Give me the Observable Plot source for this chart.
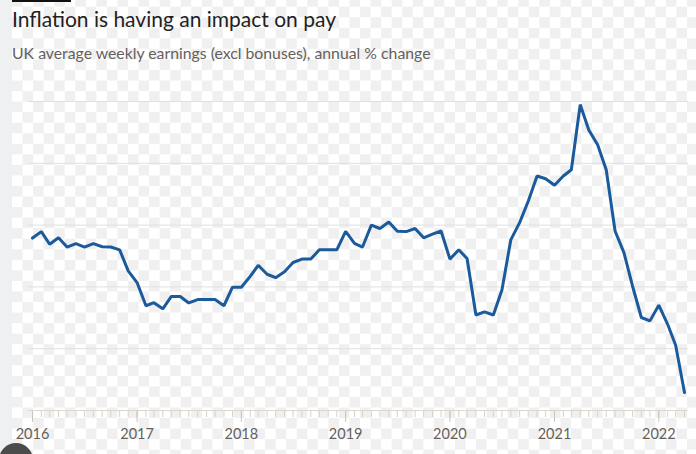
<!DOCTYPE html>
<html><head><meta charset="utf-8">
<script src="https://cdn.jsdelivr.net/npm/d3@7"></script>
<script src="https://cdn.jsdelivr.net/npm/@observablehq/plot@0.6"></script>
<style>
html,body{margin:0;padding:0;}
body{width:696px;height:454px;overflow:hidden;position:relative;background-color:#fff;
background-image:conic-gradient(#f0f0f0 25%, #fff 0 50%, #f0f0f0 0 75%, #fff 0);
background-size:21.1px 21.1px;background-position:12px 6.7px;font-family:Lato,"Open Sans",sans-serif;}
#strip{position:absolute;left:0;top:0;width:12px;height:454px;background:#eff0f2;}
#bar{position:absolute;left:12px;top:0;width:59px;height:2px;background:#111;}
#title{position:absolute;left:12px;top:6px;font-size:21px;color:#1f1f1f;white-space:nowrap;}
#subtitle{position:absolute;left:12px;top:43px;font-size:15.8px;color:#66605c;white-space:nowrap;}
#chart{position:absolute;left:0;top:80px;}
#dot{position:absolute;left:-1px;top:443px;width:34px;height:34px;border-radius:50%;background:#4b4b4b;}
</style></head>
<body>
<div id="strip"></div>
<div id="bar"></div>
<div id="title">Inflation is having an impact on pay</div>
<div id="subtitle">UK average weekly earnings (excl bonuses), annual % change</div>
<div id="chart"></div>
<div id="dot"></div>
<script>
// First month of the series (Jan 2016), one value per month to Apr 2022
const startMonth = "2016-01-01";
const values = [
  1.58, 1.79, 1.38, 1.59, 1.29, 1.40, 1.29, 1.40, 1.30, 1.29, 1.20, 0.52,
  0.14, -0.61, -0.51, -0.71, -0.31, -0.31, -0.52, -0.41, -0.41, -0.41, -0.61, -0.01,
  -0.01, 0.34, 0.70, 0.41, 0.30, 0.49, 0.79, 0.90, 0.90, 1.20, 1.20, 1.20,
  1.80, 1.41, 1.29, 2.00, 1.89, 2.10, 1.80, 1.79, 1.89, 1.59, 1.71, 1.81,
  0.90, 1.20, 0.92, -0.91, -0.81, -0.91, -0.10, 1.52, 2.08, 2.77, 3.59, 3.50,
  3.29, 3.59, 3.79, 5.90, 5.08, 4.60, 3.79, 1.81, 1.11, 0.03, -0.99, -1.10,
  -0.59, -1.21, -1.89, -3.42
];
const yearLabels = ["2016", "2017", "2018", "2019", "2020", "2021", "2022"];
const gridValues = [-2, 0, 2, 4, 6];
const baselineValue = -4;

const start = new Date(startMonth + "T00:00:00Z");
const data = values.map((v, i) => ({date: d3.utcMonth.offset(start, i), value: v}));
const yearDates = yearLabels.map(y => new Date(Date.UTC(+y, 0, 1)));
const monthDates = d3.utcMonths(d3.utcMonth.offset(start, 0), d3.utcMonth.offset(start, values.length));

const chart = Plot.plot({
  width: 696,
  height: 374,
  marginLeft: 28,
  marginRight: 8,
  marginTop: 21,
  marginBottom: 44,
  x: {type: "utc", domain: [new Date(Date.UTC(2015, 11, 18)), new Date(Date.UTC(2022, 3, 15))]},
  y: {domain: [-4, 6], axis: null},
  style: {background: "transparent", fontFamily: "Lato, 'Open Sans', sans-serif", fontSize: "14.5px", color: "#66605c", overflow: "visible"},
  marks: [
    Plot.ruleY(gridValues, {stroke: "#e0e0e0", strokeWidth: 1}),
    Plot.axisX({ticks: monthDates, tickSize: 7, tickFormat: () => "", stroke: "#d6d2ce", strokeOpacity: 1}),
    Plot.axisX({ticks: yearDates, tickSize: 12, tickPadding: 6, tickFormat: d => yearLabels[yearDates.findIndex(t => +t === +d)], stroke: "#c8c4c0", strokeOpacity: 1, fill: "#66605c"}),
    Plot.ruleY([baselineValue], {stroke: "#ddd7d0", strokeWidth: 1}),
    Plot.lineY(data, {x: "date", y: "value", stroke: "#1b5a9b", strokeWidth: 3, strokeLinejoin: "miter"})
  ]
});
document.getElementById("chart").appendChild(chart);
</script>
</body></html>
